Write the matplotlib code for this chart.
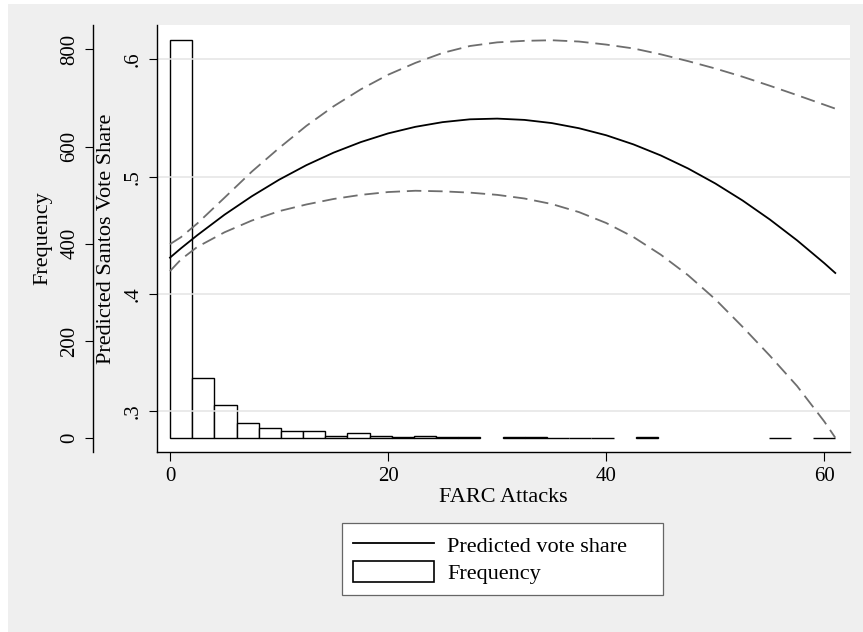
import numpy as np
import matplotlib
matplotlib.use("Agg")
from matplotlib import pyplot as plt
from matplotlib.patches import Rectangle, Patch
from matplotlib.lines import Line2D

plt.rcParams['font.family'] = ['Liberation Serif', 'DejaVu Serif']

# histogram of FARC attacks: 30 bins over 0..61
bin_width = 61 / 30
counts = [820, 123, 68, 32, 21, 14, 14, 4, 10, 4, 2, 4, 2, 2, 0,
          3, 2, 1, 1, 1, 0, 3, 0, 0, 0, 0, 0, 1, 0, 1]

# predicted vote share with confidence band
attacks = [0, 1, 2.5, 5, 7.5, 10, 12.5, 15, 17.5, 20, 22.5, 25, 27.5, 30,
           32.5, 35, 37.5, 40, 42.5, 45, 47.5, 50, 52.5, 55, 57.5, 60, 61]
pred = [0.4310, 0.4389, 0.4501, 0.4676, 0.4833, 0.4974, 0.5098, 0.5205,
        0.5295, 0.5369, 0.5425, 0.5465, 0.5489, 0.5495, 0.5484, 0.5457,
        0.5413, 0.5353, 0.5275, 0.5181, 0.5070, 0.4942, 0.4797, 0.4635,
        0.4457, 0.4262, 0.4179]
upper = [0.4425, 0.4484, 0.4601, 0.4821, 0.5043, 0.5244, 0.5433, 0.5600,
         0.5745, 0.5869, 0.5970, 0.6055, 0.6114, 0.6145, 0.6158, 0.6163,
         0.6152, 0.6126, 0.6093, 0.6043, 0.5985, 0.5922, 0.5852, 0.5775,
         0.5695, 0.5613, 0.5580]
lower = [0.4195, 0.4294, 0.4401, 0.4526, 0.4626, 0.4706, 0.4763, 0.4810,
         0.4845, 0.4869, 0.4880, 0.4875, 0.4864, 0.4845, 0.4814, 0.4767,
         0.4698, 0.4605, 0.4485, 0.4335, 0.4160, 0.3955, 0.3720, 0.3474,
         0.3215, 0.2912, 0.2775]

freq_ticks = [0, 200, 400, 600, 800]
share_ticks = [0.3, 0.4, 0.5, 0.6]
share_labels = ['.3', '.4', '.5', '.6']
x_ticks = [0, 20, 40, 60]

W, H = 863, 632
fig = plt.figure(figsize=(W / 100, H / 100), dpi=100, facecolor='white')
fig.add_artist(Rectangle((8 / W, 0), 1, 1 - 4 / H, transform=fig.transFigure,
                         facecolor='#efefef', edgecolor='none', zorder=-10))

rect = [156.7 / W, 1 - 452 / H, (850 - 156.7) / W, (452 - 25) / H]
PX = 0.72  # points per pixel

# frequency axis (behind)
ax_f = fig.add_axes(rect)
ax_f.set_facecolor('white')
edges = np.arange(len(counts)) * bin_width
cnt = np.array(counts)
keep = cnt > 0
ax_f.bar(edges[keep], cnt[keep], width=bin_width, align='edge',
         facecolor='white', edgecolor='black', linewidth=1.0)
ax_f.set_ylim(-28.2, 850)
ax_f.set_xlim(-1.22, 62.35)
for s in ['top', 'right', 'bottom']:
    ax_f.spines[s].set_visible(False)
ax_f.spines['left'].set_position(('outward', 63.4 * PX))
ax_f.spines['left'].set_linewidth(1.0)
ax_f.set_yticks(freq_ticks)
ax_f.tick_params(axis='x', bottom=False, labelbottom=False)
ax_f.tick_params(axis='y', length=8.5 * PX, width=0.8, labelsize=15,
                 labelrotation=90, pad=4)
for lab in ax_f.get_yticklabels():
    lab.set_va('center')
ax_f.set_ylabel('Frequency', fontsize=16, va='center')
ax_f.yaxis.set_label_coords(-0.164, 0.5)

# vote share axis (front)
ax_v = fig.add_axes(rect, sharex=ax_f)
ax_v.set_facecolor('none')
ax_v.plot(attacks, upper, color='#6e6e6e', lw=1.3, dashes=(8, 3.8))
ax_v.plot(attacks, lower, color='#6e6e6e', lw=1.3, dashes=(8, 3.8))
ax_v.plot(attacks, pred, color='black', lw=1.3)
ax_v.set_ylim(0.2653, 0.6293)
ax_v.set_yticks(share_ticks)
ax_v.set_yticklabels(share_labels)
ax_v.set_xticks(x_ticks)
ax_v.grid(axis='y', color='#e4e4e4', lw=1.1)
for s in ['top', 'right']:
    ax_v.spines[s].set_visible(False)
for s in ['left', 'bottom']:
    ax_v.spines[s].set_linewidth(1.0)
ax_v.tick_params(axis='y', length=8.5 * PX, width=0.8, labelsize=15,
                 labelrotation=90, pad=4)
ax_v.tick_params(axis='x', length=8.5 * PX, width=0.8, labelsize=15, pad=5)
for lab in ax_v.get_yticklabels():
    lab.set_va('center')
ax_v.set_ylabel('Predicted Santos Vote Share', fontsize=16, va='center')
ax_v.yaxis.set_label_coords(-0.0731, 0.5)
ax_v.set_xlabel('FARC Attacks', fontsize=16, va='center')
ax_v.xaxis.set_label_coords(0.5, -0.1077)

handles = [Line2D([], [], color='black', lw=1.3),
           Patch(facecolor='white', edgecolor='black', linewidth=1.2)]
leg = fig.legend(handles, ['Predicted vote share', 'Frequency'],
                 loc='upper left', mode='expand', borderaxespad=0,
                 bbox_to_anchor=(341.7 / W, 1 - 602.7 / H, 321 / W, 80 / H),
                 fontsize=16, handlelength=3.65, handleheight=1.04,
                 borderpad=0.5, handletextpad=0.59, labelspacing=0.2,
                 fancybox=False, framealpha=1, facecolor='white',
                 edgecolor='#666666')
leg.get_frame().set_linewidth(0.9)

fig.savefig('out.png', dpi=100, facecolor=fig.get_facecolor())
